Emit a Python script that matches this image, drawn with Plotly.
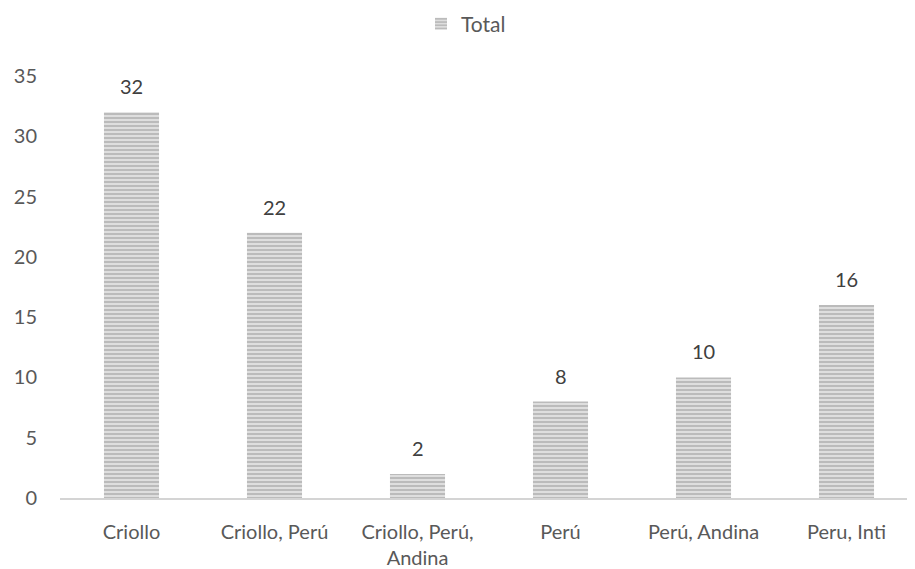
import plotly.graph_objects as go

categories = ["Criollo", "Criollo, Perú", "Criollo, Perú,<br>Andina", "Perú", "Perú, Andina", "Peru, Inti"]
totals = [32, 22, 2, 8, 10, 16]
y_ticks = [0, 5, 10, 15, 20, 25, 30, 35]
series_name = "Total"

FONT = "Lato, Carlito, Calibri, sans-serif"

fig = go.Figure()
fig.add_trace(go.Bar(
    x=categories,
    y=totals,
    name=series_name,
    marker=dict(
        color="#dcdcdc",
        line=dict(width=0),
        pattern=dict(shape="-", fgcolor="#989898", bgcolor="#dedede", size=4, solidity=0.5),
    ),
    showlegend=True,
))

for c, v in zip(categories, totals):
    fig.add_annotation(
        x=c, y=v, text=str(v), showarrow=False,
        yanchor="middle", yshift=26,
        font=dict(family=FONT, size=20, color="#404040"),
    )

fig.update_layout(
    width=907, height=561,
    margin=dict(l=52, r=0, t=68, b=71, autoexpand=False),
    paper_bgcolor="white", plot_bgcolor="white",
    bargap=0.615,
    font=dict(family=FONT, size=20, color="#595959"),
    showlegend=True,
    legend=dict(
        orientation="h", xref="container", yref="container",
        x=413 / 907, xanchor="left", y=1 - 16 / 561, yanchor="middle",
        font=dict(family=FONT, size=21, color="#595959"),
    ),
    xaxis=dict(
        range=[-0.5, 5.479],
        showline=True, linecolor="#d4d4d4", linewidth=2,
        showgrid=False, zeroline=False,
        ticks="outside", ticklen=15, tickcolor="rgba(0,0,0,0)",
        tickfont=dict(family=FONT, size=20, color="#595959"),
    ),
    yaxis=dict(
        range=[0, 35], tickvals=y_ticks,
        showgrid=False, zeroline=False, showline=False,
        ticks="outside", ticklen=18, tickcolor="rgba(0,0,0,0)",
        tickfont=dict(family=FONT, size=20, color="#595959"),
    ),
)

fig.write_html("out.html")
